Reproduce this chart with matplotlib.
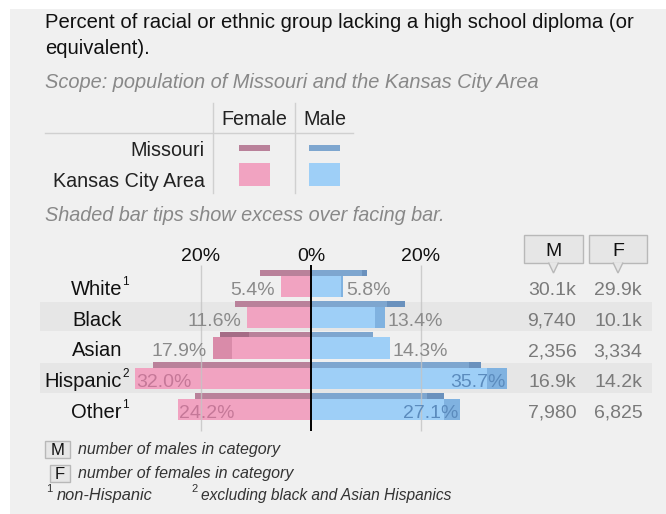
import numpy as np
import matplotlib
matplotlib.use("Agg")
import matplotlib.pyplot as plt
from matplotlib.patches import Rectangle, Polygon
from matplotlib.transforms import blended_transform_factory

plt.rcParams['font.family'] = ['Liberation Sans', 'DejaVu Sans']

# data
groups = ['White', 'Black', 'Asian', 'Hispanic', 'Other']
marks = ['1', '', '', '2', '1']
kc_female = np.array([5.4, 11.6, 17.9, 32.0, 24.2])
kc_male = np.array([5.8, 13.4, 14.3, 35.7, 27.1])
mo_female = np.array([9.3, 13.9, 16.6, 28.7, 21.1])
mo_male = np.array([10.2, 17.0, 11.3, 30.9, 24.1])
n_male = ['30.1k', '9,740', '2,356', '16.9k', '7,980']
n_female = ['29.9k', '10.1k', '3,334', '14.2k', '6,825']
ticks = [-20, 0, 20]

W, H = 666, 514
BG = '#f0f0f0'
BAND = '#e6e6e6'
F_KC, F_KC_TIP = '#f1a3c1', '#d98ba9'
F_MO, F_MO_TIP = '#b9819a', '#a56c86'
M_KC, M_KC_TIP = '#9ecff7', '#80b2e0'
M_MO, M_MO_TIP = '#7ea6cf', '#6a91bd'
GRAY = '#8a8a8a'


def fx(px):
    return px / W


def fy(py):
    return 1 - py / H


fig = plt.figure(figsize=(W / 100, H / 100), dpi=100, facecolor='white')
fig.patches.append(Rectangle((fx(10), 0), 1, fy(9), transform=fig.transFigure,
                             facecolor=BG, edgecolor='none', zorder=-10))

# header text
fig.text(fx(45), fy(28), 'Percent of racial or ethnic group lacking a high school diploma (or',
         fontsize=14.6, color='#111111', va='baseline')
fig.text(fx(45), fy(54), 'equivalent).', fontsize=14.6, color='#111111', va='baseline')
fig.text(fx(45), fy(88), 'Scope: population of Missouri and the Kansas City Area',
         fontsize=14.4, color='#888888', style='italic', va='baseline')

# legend table
fig.text(fx(254), fy(125), 'Female', fontsize=14.2, ha='center', va='baseline', color='#222222')
fig.text(fx(325), fy(125), 'Male', fontsize=14.2, ha='center', va='baseline', color='#222222')
fig.text(fx(205), fy(156), 'Missouri', fontsize=14.2, ha='right', va='baseline', color='#222222')
fig.text(fx(205), fy(187), 'Kansas City Area', fontsize=14.2, ha='right', va='baseline', color='#222222')
for xl in [213, 295]:
    fig.lines.append(plt.Line2D([fx(xl), fx(xl)], [fy(103), fy(193)], transform=fig.transFigure,
                                color='#d0d0d0', lw=1))
fig.lines.append(plt.Line2D([fx(45), fx(353)], [fy(133), fy(133)], transform=fig.transFigure,
                            color='#d0d0d0', lw=1))
for x0, c_mo, c_kc in [(239, F_MO, F_KC), (309, M_MO, M_KC)]:
    fig.patches.append(Rectangle((fx(x0), fy(151)), 31 / W, 6 / H, transform=fig.transFigure,
                                 facecolor=c_mo, edgecolor='none'))
    fig.patches.append(Rectangle((fx(x0), fy(186)), 31 / W, 23 / H, transform=fig.transFigure,
                                 facecolor=c_kc, edgecolor='none'))
fig.text(fx(45), fy(221), 'Shaded bar tips show excess over facing bar.',
         fontsize=14.3, color='#888888', style='italic', va='baseline')

# main bar axes: 0% at px 311, 5.5 px per percent; rows 30.75 px apart
ax_l, ax_r, ax_t, ax_b = 40, 655, 240, 432
ax = fig.add_axes([fx(ax_l), fy(ax_b), (ax_r - ax_l) / W, (ax_b - ax_t) / H])
ax.set_facecolor('none')
ax.set_xlim((ax_l - 311) / 5.5, (ax_r - 311) / 5.5)
row0, pitch = 286.5, 30.75
ax.set_ylim((ax_b - row0) / pitch, (ax_t - row0) / pitch)
ax.axis('off')

y = np.arange(len(groups))
for i in y:
    if i % 2 == 1:
        ax.axhspan(i - 0.5, i + 0.45, xmin=0, xmax=0.995, color=BAND, lw=0, zorder=0)

kc_h, mo_h, mo_off = 0.683, 0.195, -0.439
ax.barh(y, -kc_female, height=kc_h, color=F_KC, zorder=2)
ax.barh(y, kc_male, height=kc_h, color=M_KC, zorder=2)
ax.barh(y + mo_off, -mo_female, height=mo_h, color=F_MO, zorder=2)
ax.barh(y + mo_off, mo_male, height=mo_h, color=M_MO, zorder=2)

# shaded tips: excess over the facing bar
d = kc_female - kc_male
ax.barh(y, -np.clip(d, 0, None), left=-kc_male, height=kc_h, color=F_KC_TIP, zorder=3)
ax.barh(y, np.clip(-d, 0, None), left=kc_female, height=kc_h, color=M_KC_TIP, zorder=3)
d = mo_female - mo_male
ax.barh(y + mo_off, -np.clip(d, 0, None), left=-mo_male, height=mo_h, color=F_MO_TIP, zorder=3)
ax.barh(y + mo_off, np.clip(-d, 0, None), left=mo_female, height=mo_h, color=M_MO_TIP, zorder=3)

# grid and zero line
ytop, ybot = (265 - row0) / pitch, (431 - row0) / pitch
ax.vlines([-20, 20], ybot, ytop, color='#c4c4c4', lw=1, alpha=0.8, zorder=4)
ax.vlines(0, ybot, ytop, color='black', lw=1.4, zorder=5)
for t in ticks:
    ax.text(t, (261 - row0) / pitch, f'{abs(t)}%', ha='center', va='baseline',
            fontsize=14, color='#111111')

# labels
base = 8.5 / pitch
px = 1 / 5.5
for i in y:
    yb = i + base
    f, m = kc_female[i], kc_male[i]
    if f > 20:
        ax.text(-f + 1 * px, yb, f'{f:.1f}%', ha='left', va='baseline', fontsize=14,
                color='#c57898', zorder=6)
    else:
        ax.text(-f - 6 * px, yb, f'{f:.1f}%', ha='right', va='baseline', fontsize=14,
                color=GRAY, zorder=6)
    if m > 20:
        ax.text(m - 2 * px, yb, f'{m:.1f}%', ha='right', va='baseline', fontsize=14,
                color='#5b8bbd', zorder=6)
    else:
        ax.text(m + 3 * px, yb, f'{m:.1f}%', ha='left', va='baseline', fontsize=14,
                color=GRAY, zorder=6)

tr = blended_transform_factory(fig.transFigure, ax.transData)
for i in y:
    yb = i + base
    ax.text(fx(122), yb, groups[i], transform=tr, ha='right', va='baseline',
            fontsize=14.5, color='#111111')
    if marks[i]:
        ax.text(fx(122.5), yb - 10 / pitch, marks[i], transform=tr, ha='left', va='baseline',
                fontsize=8.5, color='#111111')
    ax.text(fx(552), yb, n_male[i], transform=tr, ha='center', va='baseline',
            fontsize=14, color='#7a7a7a')
    ax.text(fx(618), yb, n_female[i], transform=tr, ha='center', va='baseline',
            fontsize=14, color='#7a7a7a')

# M / F column headers with pointer
for x0, x1, lab in [(524, 583, 'M'), (589, 647, 'F')]:
    fig.patches.append(Rectangle((fx(x0), fy(263)), (x1 - x0) / W, 28 / H,
                                 transform=fig.transFigure, facecolor='#e6e6e6',
                                 edgecolor='#b8b8b8', lw=1))
    xc = (x0 + x1) / 2
    fig.patches.append(Polygon([(fx(xc - 5), fy(262.5)), (fx(xc), fy(273)), (fx(xc + 5), fy(262.5))],
                               closed=False, transform=fig.transFigure, facecolor='#e6e6e6',
                               edgecolor='#b8b8b8', lw=1))
    fig.text(fx(xc), fy(256), lab, ha='center', va='baseline', fontsize=14, color='#111111')

# footer
for x0, yt, wbox, lab, desc in [(45, 441, 25, 'M', 'number of males in category'),
                                (50, 465, 20, 'F', 'number of females in category')]:
    fig.patches.append(Rectangle((fx(x0), fy(yt + 17)), wbox / W, 17 / H,
                                 transform=fig.transFigure, facecolor='#e6e6e6',
                                 edgecolor='#b8b8b8', lw=1))
    fig.text(fx(x0 + wbox / 2), fy(yt + 14), lab, ha='center', va='baseline', fontsize=12,
             color='#111111')
    fig.text(fx(78), fy(yt + 13), desc, ha='left', va='baseline', fontsize=11.5,
             style='italic', color='#333333')
fig.text(fx(46), fy(492), '1', fontsize=8, color='#333333', va='baseline')
fig.text(fx(57), fy(500), 'non-Hispanic', fontsize=11.8, style='italic', color='#333333', va='baseline')
fig.text(fx(191), fy(492), '2', fontsize=8, color='#333333', va='baseline')
fig.text(fx(201), fy(500), 'excluding black and Asian Hispanics', fontsize=11.2, style='italic',
         color='#333333', va='baseline')

fig.savefig('out.png', dpi=100, facecolor=fig.get_facecolor())
